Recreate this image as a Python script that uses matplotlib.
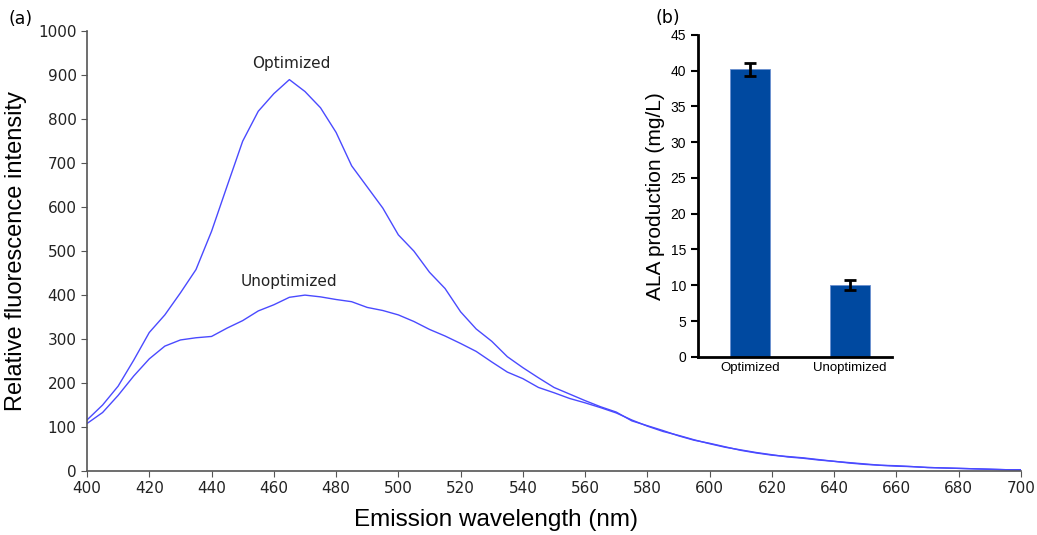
import numpy as np
import matplotlib.pyplot as plt

# emission spectra
wavelength = np.arange(400, 701, 5)
optimized = [116, 150, 193, 252, 315, 355, 405, 458, 545, 648,
             750, 818, 858, 890, 863, 826, 770, 694, 646, 598,
             537, 500, 452, 415, 362, 323, 295, 260, 235, 212,
             190, 175, 160, 146, 134, 114, 103, 92, 80, 70,
             63, 55, 47, 41, 36, 33, 30, 26, 22, 19,
             16, 13, 11, 10, 8, 7, 6, 5, 4, 3, 3]
unoptimized = [108, 133, 172, 216, 255, 284, 298, 303, 306, 325,
               342, 364, 378, 395, 400, 396, 390, 385, 372, 365,
               355, 340, 322, 307, 290, 272, 248, 225, 210, 190,
               178, 165, 155, 144, 132, 116, 102, 90, 81, 71,
               62, 54, 48, 42, 37, 32, 29, 25, 22, 18,
               15, 13, 12, 10, 8, 7, 6, 5, 4, 3, 2]

# inset bar chart
groups = ['Optimized', 'Unoptimized']
ala = [40.2, 10.1]
ala_err = [0.9, 0.7]

fig = plt.figure(figsize=(10.37, 5.35), dpi=100)
ax = fig.add_axes([0.0839, 0.1196, 0.9007, 0.822])
ax.plot(wavelength, optimized, color='#4a4aff', lw=1.0)
ax.plot(wavelength, unoptimized, color='#4a4aff', lw=1.0)
ax.set_xlim(400, 700)
ax.set_ylim(0, 1000)
ax.set_xticks(np.arange(400, 701, 20))
ax.set_yticks(np.arange(0, 1001, 100))
for s in ['top', 'right']:
    ax.spines[s].set_visible(False)
for s in ['left', 'bottom']:
    ax.spines[s].set_color('#555555')
    ax.spines[s].set_linewidth(1.2)
ax.tick_params(colors='#555555', labelcolor='#222222', labelsize=11, length=4)
ax.set_xlabel('Emission wavelength (nm)', family='Liberation Sans', fontsize=17.5)
ax.xaxis.set_label_coords(0.438, -0.086)
ax.set_ylabel('Relative fluorescence intensity', family='Liberation Sans', fontsize=17, labelpad=8)
ax.text(465.5, 927, 'Optimized', ha='center', va='center', fontsize=11, color='#222222')
ax.text(465, 432, 'Unoptimized', ha='center', va='center', fontsize=11, color='#222222')
fig.text(0.008, 0.965, '(a)', fontsize=12.5, va='center')

ins = fig.add_axes([0.673, 0.333, 0.187, 0.602])
ins.bar([0, 1], ala, width=0.4, color='#0049a0', edgecolor='#6a8fd0', linewidth=0.6)
ins.errorbar([0, 1], ala, yerr=ala_err, fmt='none', ecolor='black', elinewidth=2, capsize=4, capthick=2)
ins.set_xlim(-0.52, 1.42)
ins.set_ylim(0, 45)
ins.set_yticks(np.arange(0, 46, 5))
ins.set_xticks([0, 1])
ins.set_xticklabels(groups, family='Liberation Sans', fontsize=9.5)
for s in ['top', 'right']:
    ins.spines[s].set_visible(False)
for s in ['left', 'bottom']:
    ins.spines[s].set_linewidth(2)
ins.tick_params(axis='y', width=1.5, length=5, labelsize=10)
ins.tick_params(axis='x', length=0, pad=4)
for t in ins.get_yticklabels():
    t.set_family('Liberation Sans')
ins.set_ylabel('ALA production (mg/L)', family='Liberation Sans', fontsize=15, labelpad=4)
fig.text(0.632, 0.967, '(b)', fontsize=12.5, va='center')

fig.savefig('out.png', dpi=100)
